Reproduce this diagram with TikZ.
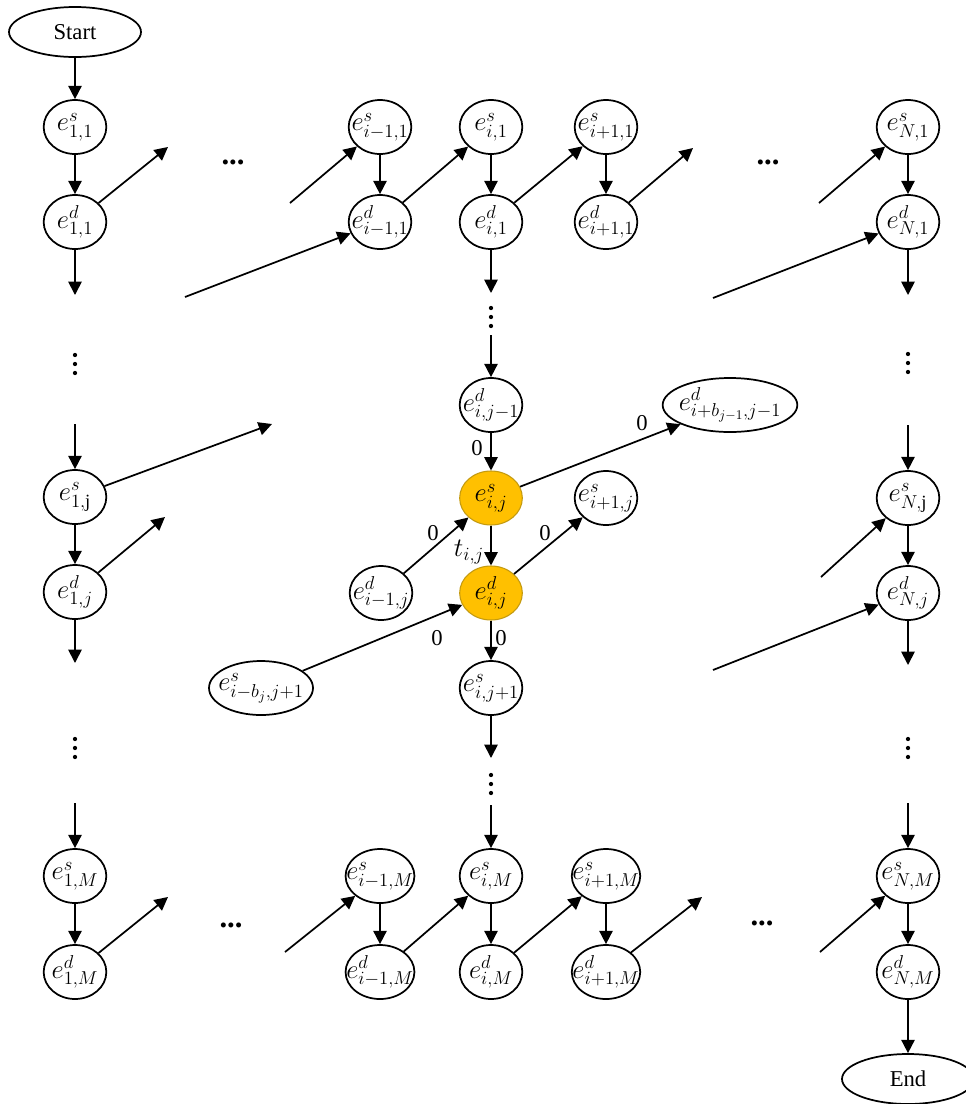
\RequirePackage{fix-cm}
\documentclass[tikz,border=0pt]{standalone}
\usepackage{fontspec}
\setmainfont{Liberation Serif}
\usetikzlibrary{arrows.meta,shapes.geometric}
\definecolor{gold}{HTML}{FFC000}
\definecolor{goldedge}{HTML}{C49A10}
\begin{document}
\begin{tikzpicture}[x=0.75pt,y=-0.75pt,
  every node/.style={font=\fontsize{17}{20}\selectfont},
  ev/.style={draw, line width=1.3pt, ellipse, minimum width=47pt, minimum height=40.5pt,
    inner sep=-7pt, font=\fontsize{20}{23}\selectfont},
  hot/.style={ev, fill=gold, draw=goldedge, line width=0.8pt},
  wideev/.style={ev, minimum width=#1},
  term/.style={draw, line width=1.3pt, ellipse, minimum width=99pt, minimum height=37.5pt, inner sep=0pt},
  link/.style={line width=1.3pt, -{Triangle[length=10pt,width=10pt]}},
  lbl/.style={inner sep=1pt},
  wlbl/.style={inner sep=1pt, font=\fontsize{20}{23}\selectfont},
  hdot/.style={inner sep=0pt, font=\fontsize{23}{26}\selectfont\bfseries},
  vdotmark/.style={fill=black}]
\useasboundingbox (0,0) rectangle (966,1104);

% start and end
\node[term] (start) at (75,32) {Start};
\node[term] (end) at (908,1079) {End};

% first row of events
\node[ev] (s11) at (75,127) {$e^{s}_{1,1}$};
\node[ev] (d11) at (75,222) {$e^{d}_{1,1}$};
\node[ev] (sa1) at (380,127) {$e^{s}_{i-1,1}$};
\node[ev] (da1) at (380,222) {$e^{d}_{i-1,1}$};
\node[ev] (sb1) at (491,127) {$e^{s}_{i,1}$};
\node[ev] (db1) at (491,222) {$e^{d}_{i,1}$};
\node[ev] (sc1) at (606,127) {$e^{s}_{i+1,1}$};
\node[ev] (dc1) at (606,222) {$e^{d}_{i+1,1}$};
\node[ev] (sN1) at (908,127) {$e^{s}_{N,1}$};
\node[ev] (dN1) at (908,222) {$e^{d}_{N,1}$};

% middle rows
\node[ev] (dbjm) at (491,405) {$e^{d}_{i,j-1}$};
\node[wideev=101pt] (bigd) at (730,405) {$e^{d}_{i+b_{j-1},j-1}$};
\node[ev] (s1j) at (75,497) {$e^{s}_{1,\mathrm{j}}$};
\node[ev] (d1j) at (75,592) {$e^{d}_{1,j}$};
\node[hot] (sij) at (491,498) {$e^{s}_{i,j}$};
\node[hot] (dij) at (491,593) {$e^{d}_{i,j}$};
\node[ev] (daj) at (381,593) {$e^{d}_{i-1,j}$};
\node[ev] (scj) at (606,498) {$e^{s}_{i+1,j}$};
\node[ev] (sNj) at (908,498) {$e^{s}_{N,\mathrm{j}}$};
\node[ev] (dNj) at (908,593) {$e^{d}_{N,j}$};
\node[wideev=78pt] (bigs) at (261,688) {$e^{s}_{i-b_{j},j+1}$};
\node[ev] (sbjp) at (491,688) {$e^{s}_{i,j+1}$};

% last row of events
\node[ev] (s1M) at (75,876) {$e^{s}_{1,M}$};
\node[ev] (d1M) at (75,972) {$e^{d}_{1,M}$};
\node[ev] (saM) at (380,876) {$e^{s}_{i-1,M}$};
\node[ev] (daM) at (380,972) {$e^{d}_{i-1,M}$};
\node[ev] (sbM) at (491,876) {$e^{s}_{i,M}$};
\node[ev] (dbM) at (491,972) {$e^{d}_{i,M}$};
\node[ev] (scM) at (606,876) {$e^{s}_{i+1,M}$};
\node[ev] (dcM) at (606,972) {$e^{d}_{i+1,M}$};
\node[ev] (sNM) at (908,876) {$e^{s}_{N,M}$};
\node[ev] (dNM) at (908,972) {$e^{d}_{N,M}$};

% horizontal ellipsis marks
\node[hdot] (h1) at (233,162) {...};
\node[hdot] (h2) at (768,162) {...};
\node[hdot] (h3) at (231,925) {...};
\node[hdot] (h4) at (762,923) {...};

% vertical ellipsis marks: three dots each
\foreach \cx/\cy in {75/364, 491/317, 908/363, 75/748, 491/784, 908/748}{
  \fill[vdotmark] (\cx,\cy-9) circle (1.6pt) (\cx,\cy) circle (1.6pt) (\cx,\cy+9) circle (1.6pt);
}

% loose ends of connectors
\coordinate (o1) at (75,295);
\coordinate (o2) at (168,147);
\coordinate (o3) at (185,297);
\coordinate (o4) at (290,203);
\coordinate (o5) at (491,293);
\coordinate (o6) at (491,335);
\coordinate (o7) at (693,148);
\coordinate (o8) at (819,203);
\coordinate (o9) at (713,298);
\coordinate (o10) at (908,295);
\coordinate (o11) at (75,424);
\coordinate (o12) at (272,424);
\coordinate (o13) at (165,517);
\coordinate (o14) at (75,663);
\coordinate (o15) at (908,425);
\coordinate (o16) at (821,577);
\coordinate (o17) at (713,670);
\coordinate (o18) at (908,665);
\coordinate (o19) at (491,758);
\coordinate (o20) at (491,805);
\coordinate (o21) at (75,803);
\coordinate (o22) at (168,897);
\coordinate (o23) at (285,952);
\coordinate (o24) at (702,897);
\coordinate (o25) at (820,952);
\coordinate (o26) at (908,803);

% first row connectors
\draw[link] (start) -- (s11);
\draw[link] (s11) -- (d11);
\draw[link] (d11) -- (o1);
\draw[link] (d11) -- (o2);
\draw[link] (o3) -- (da1);
\draw[link] (o4) -- (sa1);
\draw[link] (sa1) -- (da1);
\draw[link] (da1) -- (sb1);
\draw[link] (sb1) -- (db1);
\draw[link] (db1) -- (sc1);
\draw[link] (sc1) -- (dc1);
\draw[link] (dc1) -- (o7);
\draw[link] (db1) -- (o5);
\draw[link] (o8) -- (sN1);
\draw[link] (o9) -- (dN1);
\draw[link] (sN1) -- (dN1);
\draw[link] (dN1) -- (o10);

% middle connectors
\draw[link] (o6) -- (dbjm);
\draw[link] (dbjm) -- (sij);
\draw[link] (sij) -- (bigd);
\draw[link] (o11) -- (s1j);
\draw[link] (s1j) -- (o12);
\draw[link] (s1j) -- (d1j);
\draw[link] (d1j) -- (o13);
\draw[link] (d1j) -- (o14);
\draw[link] (daj) -- (sij);
\draw[link] (sij) -- (dij);
\draw[link] (dij) -- (scj);
\draw[link] (bigs) -- (dij);
\draw[link] (dij) -- (sbjp);
\draw[link] (sbjp) -- (o19);
\draw[link] (o15) -- (sNj);
\draw[link] (o16) -- (sNj);
\draw[link] (sNj) -- (dNj);
\draw[link] (o17) -- (dNj);
\draw[link] (dNj) -- (o18);

% weights on the highlighted connectors
\node[lbl] (w1) at (477,448) {0};
\node[lbl] (w2) at (642,423) {0};
\node[lbl] (w3) at (433,533) {0};
\node[wlbl] (w4) at (469,552) {$t_{i,j}$};
\node[lbl] (w5) at (545,533) {0};
\node[lbl] (w6) at (437,638) {0};
\node[lbl] (w7) at (501,638) {0};

% last row connectors
\draw[link] (o21) -- (s1M);
\draw[link] (s1M) -- (d1M);
\draw[link] (d1M) -- (o22);
\draw[link] (o23) -- (saM);
\draw[link] (saM) -- (daM);
\draw[link] (daM) -- (sbM);
\draw[link] (o20) -- (sbM);
\draw[link] (sbM) -- (dbM);
\draw[link] (dbM) -- (scM);
\draw[link] (scM) -- (dcM);
\draw[link] (dcM) -- (o24);
\draw[link] (o25) -- (sNM);
\draw[link] (o26) -- (sNM);
\draw[link] (sNM) -- (dNM);
\draw[link] (dNM) -- (end);
\end{tikzpicture}
\end{document}
